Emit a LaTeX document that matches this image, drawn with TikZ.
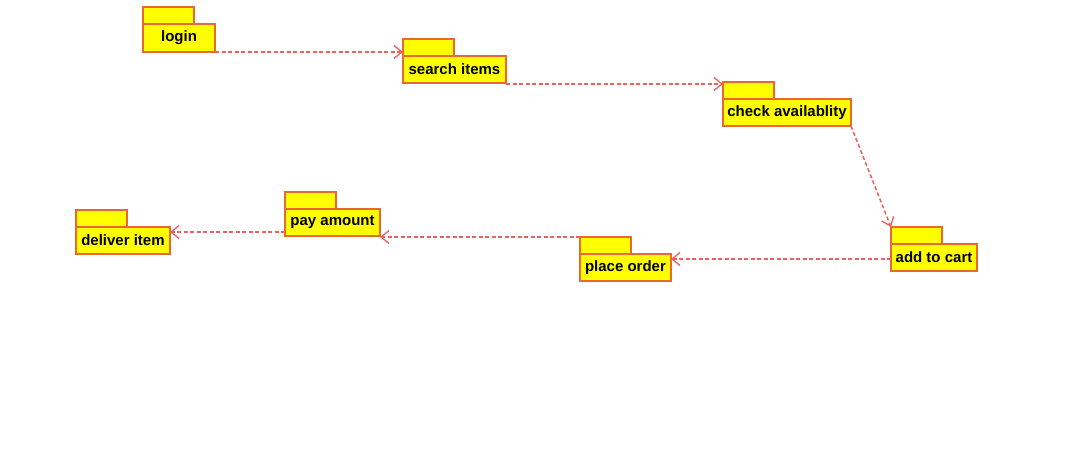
\documentclass[tikz,border=0pt]{standalone}
\usepackage{fontspec}
\setmainfont{Liberation Sans}
\usetikzlibrary{arrows.meta,calc}
\definecolor{pkgfill}{RGB}{255,255,0}
\definecolor{pkgline}{RGB}{236,104,48}
\definecolor{deplines}{RGB}{236,96,96}
\begin{document}
\begin{tikzpicture}[x=1pt,y=-1pt,
  pkg/.style={draw=pkgline,fill=pkgfill,line width=1.7pt,inner sep=0pt,outer sep=0pt,
    minimum height=27pt,anchor=north west,
    font=\fontsize{15}{18}\selectfont\bfseries},
  pkgtab/.style={draw=pkgline,fill=pkgfill,line width=1.7pt,inner sep=0pt,outer sep=0pt,
    minimum width=51pt,minimum height=17pt,anchor=south west},
  dep/.style={draw=deplines,line width=1.5pt,dash pattern=on 4pt off 2.5pt,
    -{Straight Barb[length=8pt,width=13pt,line width=1.3pt]}}]
\useasboundingbox (0,0) rectangle (1080,451);
\fill[white] (0,0) rectangle (1080,451);
% package bodies
\node[pkg,minimum width=72pt,minimum height=28pt] (login) at (143,24) {login};
\node[pkg,minimum width=103pt] (search) at (403,56) {search items};
\node[pkg,minimum width=128pt] (check) at (723,99) {check availablity};
\node[pkg,minimum width=86pt] (add) at (891,244) {add to cart};
\node[pkg,minimum width=91pt] (place) at (580,254) {place order};
\node[pkg,minimum width=95pt] (pay) at (285,209) {pay amount};
\node[pkg,minimum width=94pt] (deliver) at (76,227) {deliver item};
% tabs
\node[pkgtab] (loginT) at (login.north west) {};
\node[pkgtab] (searchT) at (search.north west) {};
\node[pkgtab] (checkT) at (check.north west) {};
\node[pkgtab] (addT) at (add.north west) {};
\node[pkgtab] (placeT) at (place.north west) {};
\node[pkgtab] (payT) at (pay.north west) {};
\node[pkgtab] (deliverT) at (deliver.north west) {};
% dependencies
\draw[dep] (login.south east) -- (login.south east -| search.west);
\draw[dep] ($(search.south east)+(0,1)$) -- ($(check.west |- search.south east)+(0,1)$);
\draw[dep] (check.south east) -- (addT.north west);
\draw[dep] ($(add.west)+(0,1.5)$) -- ($(place.east |- add.west)+(0,1.5)$);
\draw[dep] (placeT.north west) -- (placeT.north west -| pay.east);
\draw[dep] ($(pay.south west)+(0,-4)$) -- ($(deliver.east |- pay.south west)+(0,-4)$);
\end{tikzpicture}
\end{document}
